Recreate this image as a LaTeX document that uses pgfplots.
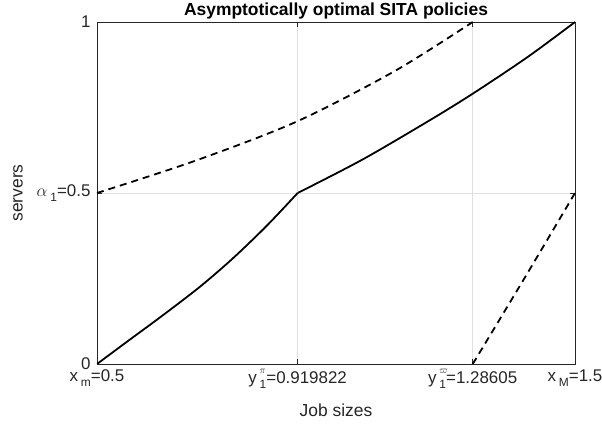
\documentclass[border=0pt]{standalone}
\usepackage{fontspec}
\setmainfont{Liberation Sans}
\usepackage{pgfplots}
\pgfplotsset{compat=1.18}
\definecolor{axgray}{gray}{0.15}
\definecolor{gridgray}{gray}{0.88}
\newcommand{\sbs}[1]{\raisebox{-0.3em}{\fontsize{12}{12}\selectfont #1}}
\newcommand{\sps}[1]{\raisebox{0.55em}{\fontsize{10}{10}\selectfont #1}}
\begin{document}
\begin{tikzpicture}
\begin{axis}[
  name=ax,
  scale only axis,
  width=478bp, height=342bp,
  xmin=0.5, xmax=1.5, ymin=0, ymax=1,
  xtick={0.5,0.919822,1.28605,1.5},
  xticklabels={x\,\sbs{m}=0.5, y\,\rlap{\sps{$\pi$}}\sbs{1}=0.919822, y\,\rlap{\sps{$\varpi$}}\sbs{1}=1.28605, x\,\sbs{M}=1.5},
  ytick={0,0.5,1},
  yticklabels={0, {\fontsize{18}{18}\selectfont$\alpha$}\,\sbs{1}=0.5, 1},
  grid=major,
  major grid style={gridgray, line width=0.5bp},
  axis line style={axgray, line width=0.6bp},
  tick style={axgray, line width=0.6bp},
  major tick length=5bp,
  tick align=inside,
  tick pos=both,
  ticklabel style={font=\fontsize{17}{19}\selectfont, text=black!85},
  xticklabel style={yshift=-2bp},
  yticklabel style={xshift=-3bp},
  title={\bfseries Asymptotically optimal SITA policies},
  title style={font=\fontsize{17.5}{19}\selectfont, yshift=-6.5bp},
  xlabel={Job sizes},
  ylabel={servers},
  label style={font=\fontsize{17.5}{19}\selectfont, text=black!85},
  xlabel style={yshift=-9bp},
  ylabel style={yshift=7bp},
]
\addplot[black, line width=1.8bp, smooth] coordinates {
 (0.5,0) (0.5655,0.068) (0.6354,0.140) (0.7155,0.226) (0.7851,0.310) (0.855,0.404) (0.919822,0.5)
};
\addplot[black, line width=1.8bp, smooth] coordinates {
 (0.919822,0.5) (1.0537,0.5965) (1.193,0.710) (1.2873,0.7915) (1.4023,0.899) (1.5,1)
};
\addplot[black, line width=1.8bp, dash pattern=on 7bp off 5bp, smooth] coordinates {
 (0.5,0.5) (0.705,0.594) (0.918,0.709) (1.1234,0.857) (1.28605,1)
};
\addplot[black, line width=1.8bp, dash pattern=on 7bp off 5bp, smooth] coordinates {
 (1.28605,0) (1.392,0.2456) (1.5,0.5)
};
\end{axis}
\pgfresetboundingbox
\path (ax.south west) ++(-97bp,-64bp) rectangle ++(602bp,428bp);
\end{tikzpicture}
\end{document}
